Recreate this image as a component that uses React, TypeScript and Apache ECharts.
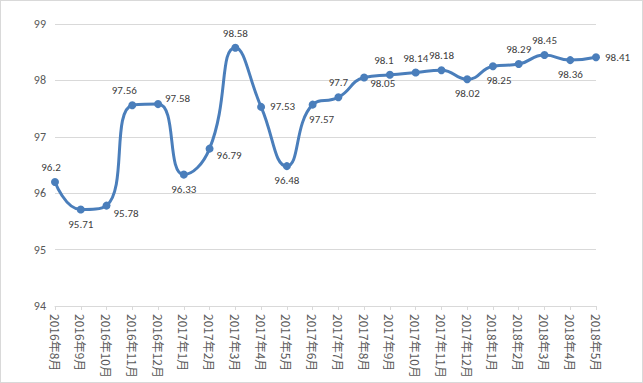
import React, { useEffect, useRef } from "react";
import * as echarts from "echarts";

const categories = [
  "2016年8月", "2016年9月", "2016年10月", "2016年11月", "2016年12月",
  "2017年1月", "2017年2月", "2017年3月", "2017年4月", "2017年5月",
  "2017年6月", "2017年7月", "2017年8月", "2017年9月", "2017年10月",
  "2017年11月", "2017年12月", "2018年1月", "2018年2月", "2018年3月",
  "2018年4月", "2018年5月",
];
const values = [
  96.2, 95.71, 95.78, 97.56, 97.58, 96.33, 96.79, 98.58, 97.53, 96.48,
  97.57, 97.7, 98.05, 98.1, 98.14, 98.18, 98.02, 98.25, 98.29, 98.45,
  98.36, 98.41,
];
const labelPositions = [
  "top", "bottom", "right", "top", "right", "bottom", "right", "top", "right", "bottom",
  "bottom", "top", "right", "top", "top", "top", "bottom", "bottom", "top", "top",
  "bottom", "right",
];
const labelOffsets: Record<number, number[]> = {
  0: [-4, 0], 2: [-2, 8], 3: [-8, 0], 4: [-2, -6], 6: [-2, 7], 10: [9, 0], 12: [-3, 6], 13: [-6, 0], 17: [6, 0],
};

export default function App() {
  const ref = useRef<HTMLDivElement>(null);
  useEffect(() => {
    if (!ref.current) return;
    const chart = echarts.init(ref.current, null, { renderer: "svg" });
    const font = "Calibri, 'Carlito', 'Liberation Sans Narrow', 'Noto Sans', sans-serif";
    chart.setOption({
      animation: false,
      backgroundColor: "#ffffff",
      grid: { left: 54, right: 46, top: 23, bottom: 76 },
      xAxis: {
        type: "category",
        data: categories,
        boundaryGap: false,
        axisLine: { lineStyle: { color: "#d9d9d9" } },
        axisTick: { show: true, lineStyle: { color: "#d9d9d9" }, length: 4 },
        axisLabel: {
          rotate: -90,
          color: "#595959",
          fontSize: 12,
          fontFamily: "'Noto Sans CJK SC', sans-serif",
          margin: 8,
          interval: 0,
        },
      },
      yAxis: {
        type: "value",
        min: 94,
        max: 99,
        interval: 1,
        axisLine: { show: false },
        axisTick: { show: false },
        splitLine: { lineStyle: { color: "#d9d9d9" } },
        axisLabel: { color: "#595959", fontSize: 12, fontFamily: font, margin: 9 },
      },
      series: [
        {
          type: "line",
          smooth: 0.5,
          data: values.map((v, i) => ({
            value: v,
            label: {
              position: labelPositions[i],
              offset: labelOffsets[i] || [0, 0],
            },
          })),
          symbol: "circle",
          symbolSize: 8,
          lineStyle: { color: "#4a7ebb", width: 3 },
          itemStyle: { color: "#4a7ebb" },
          label: {
            show: true,
            color: "#404040",
            fontSize: 11,
            fontFamily: font,
            distance: 5,
          },
        },
      ],
    });
    return () => chart.dispose();
  }, []);
  return (
    <div
      style={{
        position: "fixed",
        left: 0,
        top: 0,
        width: 643,
        height: 383,
        boxSizing: "border-box",
        border: "1px solid #d9d9d9",
        background: "#fff",
      }}
    >
      <div ref={ref} style={{ width: 641, height: 381 }} />
    </div>
  );
}
